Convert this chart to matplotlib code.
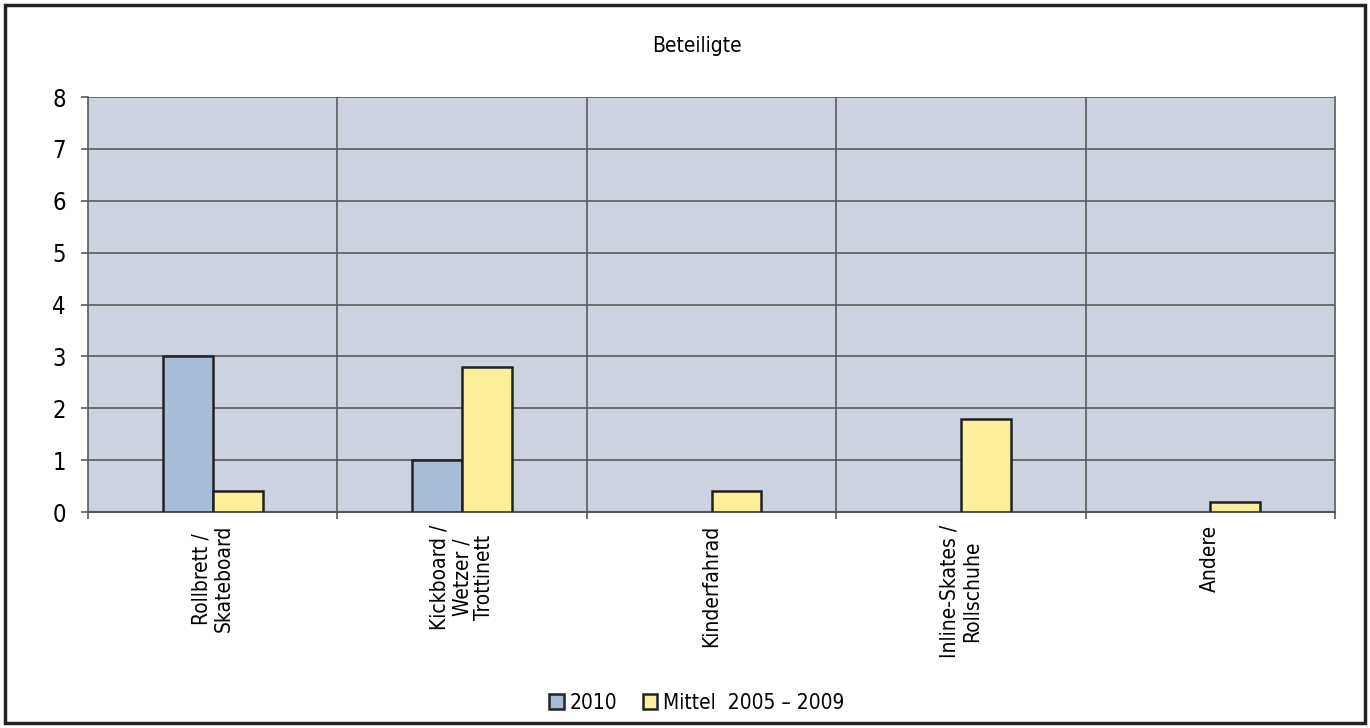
import matplotlib
matplotlib.use('Agg')
import matplotlib.pyplot as plt
from matplotlib.patches import Rectangle
import numpy as np

plt.rcParams['font.family'] = ['DejaVu Sans']
plt.rcParams['font.stretch'] = 'condensed'

categories = ['Rollbrett /\nSkateboard', 'Kickboard /\nWetzer /\nTrottinett',
              'Kinderfahrad', 'Inline-Skates /\nRollschuhe', 'Andere']
werte_2010 = [3, 1, 0, 0, 0]
werte_mittel = [0.4, 2.8, 0.4, 1.8, 0.2]
y_ticks = [0, 1, 2, 3, 4, 5, 6, 7, 8]

col_2010 = '#a9bcd6'
col_mittel = '#fcee9a'
col_bg = '#ccd2e0'
col_grid = '#5a5a5a'

fig = plt.figure(figsize=(13.7, 7.28), dpi=100)
ax = fig.add_axes([88 / 1370, 1 - 512 / 728, (1335 - 88) / 1370, (512 - 97) / 728])
ax.set_facecolor(col_bg)

x = np.arange(len(categories))
w = 0.2
lw_2010 = [1.8 if v > 0 else 0 for v in werte_2010]
lw_mittel = [1.8 if v > 0 else 0 for v in werte_mittel]
ax.bar(x - w / 2, werte_2010, w, color=col_2010, edgecolor='#222222', linewidth=lw_2010,
       label='2010', zorder=3)
ax.bar(x + w / 2, werte_mittel, w, color=col_mittel, edgecolor='#222222', linewidth=lw_mittel,
       label='Mittel  2005 – 2009', zorder=3)

ax.set_xlim(-0.5, len(categories) - 0.5)
ax.set_ylim(0, 8)
ax.set_yticks(y_ticks)
ax.tick_params(axis='y', labelsize=17, length=5, color=col_grid, width=1.2, pad=11)

# Kategoriegrenzen als Ticks / vertikale Linien
bounds = np.arange(-0.5, len(categories), 1.0)
ax.set_xticks(bounds)
ax.set_xticklabels([])
ax.tick_params(axis='x', length=5, color=col_grid, width=1.2)
for b in bounds[1:-1]:
    ax.axvline(b, color=col_grid, linewidth=1.2, zorder=1)
ax.yaxis.grid(True, color=col_grid, linewidth=1.2, zorder=1)
ax.set_axisbelow(True)

for c, lab in zip(x, categories):
    ax.text(c, -0.25, lab, rotation=90, ha='center', va='top', fontsize=15,
            multialignment='center', linespacing=1.15, transform=ax.transData)

for s in ['left', 'right', 'top']:
    ax.spines[s].set_color(col_grid)
    ax.spines[s].set_linewidth(1.2)
ax.spines['top'].set_visible(False)
ax.spines['bottom'].set_color('#555555')
ax.spines['bottom'].set_linewidth(1.5)

fig.text(697 / 1370, 1 - 46 / 728, 'Beteiligte', ha='center', va='center', fontsize=15)

leg = fig.legend(loc='center', bbox_to_anchor=(697 / 1370, 1 - 703 / 728), ncol=2,
                 frameon=False, fontsize=15, handlelength=0.7, handleheight=0.7,
                 handletextpad=0.3, columnspacing=1.2)

fig.patches.append(Rectangle((5 / 1370, 5 / 728), 1360 / 1370, 718 / 728,
                             transform=fig.transFigure, fill=False,
                             edgecolor='#222222', linewidth=2.5))

fig.savefig('out.png', dpi=100)
